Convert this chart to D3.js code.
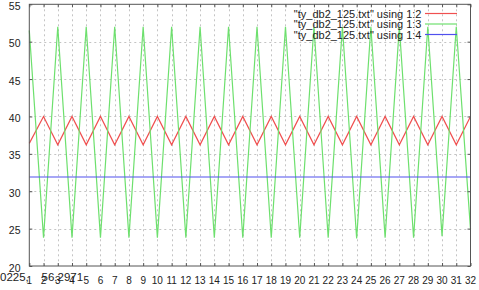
<!DOCTYPE html>
<html>
<head>
<meta charset="utf-8">
<script src="https://cdn.jsdelivr.net/npm/d3@7"></script>
<style>
  html, body { margin: 0; padding: 0; background: #fff; }
  svg { display: block; }
</style>
</head>
<body>
<div id="chart"></div>
<script>
// x column (1:...) and the three plotted columns
const xValues = [1, 2, 3, 4, 5, 6, 7, 8, 9, 10, 11, 12, 13, 14, 15, 16,
                 17, 18, 19, 20, 21, 22, 23, 24, 25, 26, 27, 28, 29, 30, 31, 32];
const col2 = [36.4, 40, 36.2, 40, 36.2, 40, 36.2, 40, 36.2, 40, 36.2, 40, 36.2, 40, 36.2, 40,
              36.2, 40, 36.2, 40, 36.2, 40, 36.2, 40, 36.2, 40, 36.2, 40, 36.2, 40, 36.2, 40];
const col3 = [51.5, 23.8, 52, 23.8, 52, 23.8, 52, 23.8, 52, 23.8, 52, 23.8, 52, 23.8, 52, 23.8,
              52, 23.8, 52, 23.8, 52, 23.8, 52, 23.7, 52, 23.8, 52, 23.8, 52, 24, 52, 24.9];
const col4 = [31.9, 31.9, 31.9, 31.9, 31.9, 31.9, 31.9, 31.9, 31.9, 31.9, 31.9, 31.9, 31.9, 31.9, 31.9, 31.9,
              31.9, 31.9, 31.9, 31.9, 31.9, 31.9, 31.9, 31.9, 31.9, 31.9, 31.9, 31.9, 31.9, 31.9, 31.9, 31.9];

const seriesNames = ['"ty_db2_125.txt" using 1:2', '"ty_db2_125.txt" using 1:3', '"ty_db2_125.txt" using 1:4'];
const yTicks = [20, 25, 30, 35, 40, 45, 50, 55];
const statusText = ['0225,', '56.2971'];

const width = 479, height = 290;
const plot = { left: 29.3, right: 470.5, top: 4.3, bottom: 266 };
const colors = ['#f05050', '#6ee06e', '#5050ee'];

const svg = d3.select('#chart').append('svg')
    .attr('width', width)
    .attr('height', height);

const x = d3.scaleLinear().domain([1, 32]).range([plot.left, plot.right]);
const y = d3.scaleLinear().domain([20, 55]).range([plot.bottom, plot.top]);

// grid (dotted, gnuplot lt 0 style)
const grid = svg.append('g').attr('stroke', '#c4c4c4').attr('stroke-dasharray', '2,3').attr('stroke-width', 1);
grid.selectAll('.gx')
    .data(xValues.slice(1, -1))
    .join('line')
        .attr('x1', d => Math.round(x(d)) + 0.5).attr('x2', d => Math.round(x(d)) + 0.5)
        .attr('y1', plot.top).attr('y2', plot.bottom);
grid.selectAll('.gy')
    .data(yTicks.slice(1, -1))
    .join('line')
        .attr('y1', d => Math.round(y(d)) + 0.5).attr('y2', d => Math.round(y(d)) + 0.5)
        .attr('x1', plot.left).attr('x2', plot.right);

// data lines
const lineGen = vals => d3.line()
    .x((d, i) => x(xValues[i]))
    .y(d => y(d))(vals);

const lineG = svg.append('g').attr('fill', 'none').attr('stroke-width', 1.2);
[col2, col3, col4].forEach((vals, i) => {
    lineG.append('path')
        .attr('d', lineGen(vals))
        .attr('stroke', colors[i]);
});

// border
svg.append('rect')
    .attr('x', plot.left).attr('y', plot.top)
    .attr('width', plot.right - plot.left).attr('height', plot.bottom - plot.top)
    .attr('fill', 'none').attr('stroke', '#555').attr('stroke-width', 1);

// axes: inward ticks, mirrored
const tickLen = -3;
svg.append('g')
    .attr('transform', `translate(0,${plot.bottom})`)
    .call(d3.axisBottom(x).tickValues(xValues).tickSize(tickLen).tickFormat(''))
    .call(g => g.select('.domain').remove());
svg.append('g')
    .attr('transform', `translate(0,${plot.top})`)
    .call(d3.axisTop(x).tickValues(xValues).tickSize(tickLen).tickFormat(''))
    .call(g => g.select('.domain').remove());
svg.append('g')
    .attr('transform', `translate(${plot.left},0)`)
    .call(d3.axisLeft(y).tickValues(yTicks).tickSize(tickLen).tickFormat(''))
    .call(g => g.select('.domain').remove());
svg.append('g')
    .attr('transform', `translate(${plot.right},0)`)
    .call(d3.axisRight(y).tickValues(yTicks).tickSize(tickLen).tickFormat(''))
    .call(g => g.select('.domain').remove());
svg.selectAll('.tick line').attr('stroke', '#555');

// tick labels
svg.append('g').selectAll('text')
    .data(yTicks)
    .join('text')
        .attr('x', 20.5)
        .attr('y', d => y(d) + 5.5)
        .attr('text-anchor', 'end')
        .attr('font-family', 'Liberation Sans, Arial, sans-serif')
        .attr('font-size', '10.5px')
        .attr('fill', '#222')
        .text(d => d);

svg.append('g').selectAll('text')
    .data(xValues)
    .join('text')
        .attr('x', d => x(d))
        .attr('y', 284)
        .attr('text-anchor', 'middle')
        .attr('font-family', 'Liberation Sans Narrow, Arial Narrow, sans-serif')
        .attr('font-size', '10px')
        .attr('fill', '#222')
        .text(d => d);

// mouse status readout drawn over the first x labels, as in the screenshot
svg.append('text')
    .attr('x', 0).attr('y', 281)
    .attr('font-family', 'Liberation Sans, Arial, sans-serif')
    .attr('font-size', '11.5px').attr('fill', '#222')
    .text(statusText[0]);
svg.append('text')
    .attr('x', 41.5).attr('y', 281)
    .attr('font-family', 'Liberation Sans, Arial, sans-serif')
    .attr('font-size', '11.5px').attr('fill', '#222')
    .text(statusText[1]);

// key (no box), text right-justified before the sample
const key = svg.append('g');
seriesNames.forEach((name, i) => {
    const ky = 13.5 + i * 10.5;
    key.append('text')
        .attr('x', 421.5).attr('y', ky + 4)
        .attr('text-anchor', 'end')
        .attr('font-family', 'Liberation Sans, Arial, sans-serif')
        .attr('font-size', '11px')
        .attr('fill', '#222')
        .text(name);
    key.append('line')
        .attr('x1', 425).attr('x2', 457)
        .attr('y1', ky).attr('y2', ky)
        .attr('stroke', colors[i]).attr('stroke-width', 1.2);
});
</script>
</body>
</html>
